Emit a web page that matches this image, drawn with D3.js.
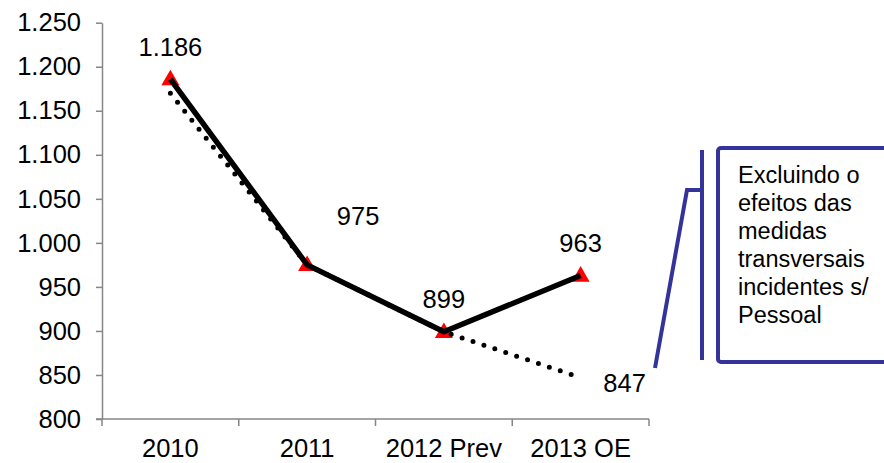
<!DOCTYPE html>
<html>
<head>
<meta charset="utf-8">
<script src="https://cdn.jsdelivr.net/npm/d3@7"></script>
<style>
  html, body { margin: 0; padding: 0; background: #fff; }
  svg text { font-family: "Liberation Sans", Arial, sans-serif; fill: #000; }
</style>
</head>
<body>
<svg id="chart" width="884" height="463"></svg>
<script>
// Despesa com pessoal (milhões €)
const categories = ["2010", "2011", "2012 Prev", "2013 OE"];
const totalValues = [1186, 975, 899, 963];          // linha contínua
const adjustedValues = [1170, 975, 899, 847];       // linha pontilhada (sem medidas transversais)
const yTicks = [800, 850, 900, 950, 1000, 1050, 1100, 1150, 1200, 1250];
const labelValues = [1186, 975, 899, 963, 847];
const calloutLines = ["Excluindo o", "efeitos das", "medidas", "transversais", "incidentes s/", "Pessoal"];

const svg = d3.select("#chart");
const FS = 25.5;
const axisColor = "#868686";
const calloutColor = "#333399";

const x = d3.scaleBand().domain(categories).range([102, 649]).padding(0);
const y = d3.scaleLinear().domain([800, 1250]).range([419, 22.7]);
const cx = c => x(c) + x.bandwidth() / 2;

const pt = d3.formatLocale({ decimal: ",", thousands: ".", grouping: [3], currency: ["", "€"] });
const fmt = pt.format(",.0f");

// Eixo Y
const yAxis = svg.append("g")
  .attr("transform", "translate(102,0)")
  .call(d3.axisLeft(y).tickValues(yTicks).tickFormat(fmt).tickSize(6).tickSizeOuter(0).tickPadding(15));
yAxis.select(".domain").attr("stroke", axisColor).attr("stroke-width", 1.5);
yAxis.selectAll(".tick line").attr("stroke", axisColor).attr("stroke-width", 1.5);
yAxis.selectAll(".tick text")
  .attr("font-size", FS).attr("font-family", "Liberation Sans, Arial, sans-serif").attr("fill", "#000");

// Eixo X
const xg = svg.append("g");
xg.append("line")
  .attr("x1", x.range()[0] - 6).attr("x2", x.range()[1])
  .attr("y1", y(800)).attr("y2", y(800))
  .attr("stroke", axisColor).attr("stroke-width", 1.5);
const edges = categories.map(c => x(c)).concat([x.range()[1]]);
xg.selectAll("line.tk").data(edges).join("line")
  .attr("class", "tk")
  .attr("x1", d => d).attr("x2", d => d)
  .attr("y1", y(800)).attr("y2", y(800) + 7)
  .attr("stroke", axisColor).attr("stroke-width", 1.5);
xg.selectAll("text").data(categories).join("text")
  .attr("x", d => cx(d)).attr("y", y(800) + 38)
  .attr("text-anchor", "middle").attr("font-size", 25.5)
  .text(d => d);

const line = d3.line().x((d, i) => cx(categories[i])).y(d => y(d));

// Marcadores
svg.append("g").selectAll("path").data(totalValues).join("path")
  .attr("transform", (d, i) => `translate(${cx(categories[i])},${y(d) + 1})`)
  .attr("d", d3.symbol(d3.symbolTriangle, 140))
  .attr("fill", "#ff0000");

// Série ajustada (pontilhada)
svg.append("path").datum(adjustedValues)
  .attr("d", line).attr("fill", "none")
  .attr("stroke", "#000").attr("stroke-width", 5)
  .attr("stroke-linecap", "round").attr("stroke-dasharray", "0 11.5");

// Série total
svg.append("path").datum(totalValues)
  .attr("d", line).attr("fill", "none")
  .attr("stroke", "#000").attr("stroke-width", 5.5)
  .attr("stroke-linejoin", "miter");

// Rótulos de dados
const labelPos = [
  { i: 0, v: labelValues[0], dx: 0, dy: -23 },
  { i: 1, v: labelValues[1], dx: 51, dy: -40 },
  { i: 2, v: labelValues[2], dx: 0, dy: -24 },
  { i: 3, v: labelValues[3], dx: 0, dy: -23 },
  { i: 3, v: labelValues[4], dx: 44, dy: 14 }
];
svg.append("g").selectAll("text").data(labelPos).join("text")
  .attr("x", d => cx(categories[d.i]) + d.dx)
  .attr("y", d => y(d.v) + d.dy)
  .attr("text-anchor", "middle").attr("font-size", FS)
  .text(d => fmt(d.v));

// Nota explicativa
const cg = svg.append("g").attr("stroke", calloutColor).attr("fill", "none").attr("stroke-width", 4);
cg.append("polyline")
  .attr("points", [[655, 368], [687, 190], [702, 190]].map(p => p.join(",")).join(" "))
  .attr("stroke-linejoin", "miter");
cg.append("line").attr("x1", 702).attr("x2", 702).attr("y1", 150).attr("y2", 360);
cg.append("rect").attr("x", 718).attr("y", 148).attr("width", 200).attr("height", 214).attr("rx", 3);

svg.append("g").selectAll("text").data(calloutLines).join("text")
  .attr("x", 738).attr("y", (d, i) => 183 + i * 27.9)
  .attr("font-size", 23.5)
  .text(d => d);
</script>
</body>
</html>
